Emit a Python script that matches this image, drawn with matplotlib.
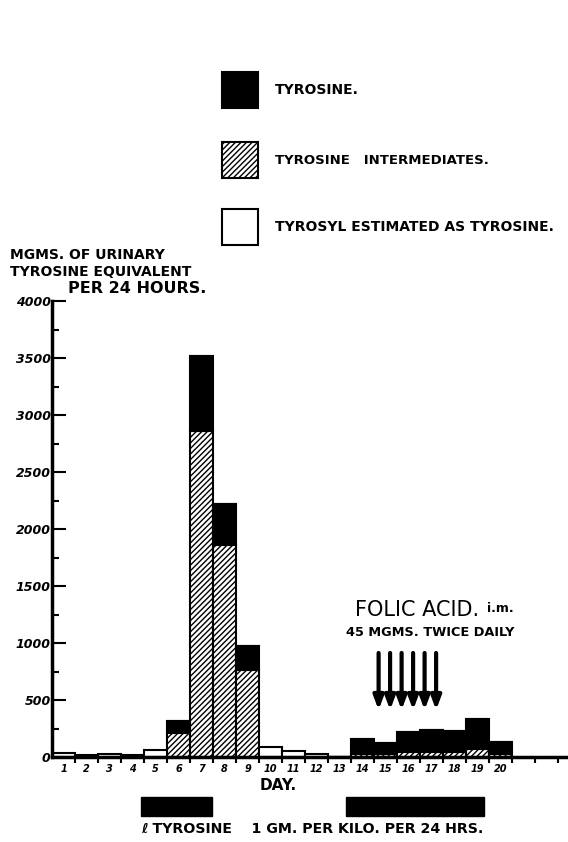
import matplotlib
matplotlib.use("Agg")
import matplotlib.pyplot as plt
import matplotlib.transforms as mtransforms
from matplotlib.patches import Rectangle
import numpy as np

plt.rcParams['font.family'] = ['DejaVu Sans']
plt.rcParams['hatch.linewidth'] = 1.0

days = list(range(1, 21))
day_labels = [str(d) for d in days]
intermediates = [0, 0, 0, 0, 0, 210, 2860, 1860, 760, 0, 0, 0, 0, 30, 30, 40, 40, 40, 70, 30]
tyrosine = [0, 0, 0, 0, 0, 110, 660, 360, 210, 0, 0, 0, 0, 128, 90, 182, 197, 185, 263, 104]
tyrosyl = [35, 20, 30, 20, 60, 0, 0, 0, 0, 85, 55, 30, 0, 0, 0, 0, 0, 0, 0, 0]
y_ticks = [0, 500, 1000, 1500, 2000, 2500, 3000, 3500, 4000]
arrow_days = [14.7, 15.2, 15.7, 16.2, 16.7, 17.2]

fig = plt.figure(figsize=(5.68, 8.42), dpi=100)
ax = fig.add_axes([52/568, 85/842, 516/568, 456/842])

x = np.array(days)
inter = np.array(intermediates)
tyr = np.array(tyrosine)
tsy = np.array(tyrosyl)

ax.bar(x, inter, width=1.0, color='white', edgecolor='black', hatch='//////', linewidth=1.5)
ax.bar(x, tyr, width=1.0, bottom=inter, color='black', edgecolor='black', linewidth=1.5)
ax.bar(x, tsy, width=1.0, bottom=inter + tyr, color='white', edgecolor='black', linewidth=1.5)

ax.set_xlim(0.5, 0.5 + 516/23)
ax.set_ylim(0, 4000)
for s in ['top', 'right']:
    ax.spines[s].set_visible(False)
ax.spines['left'].set_linewidth(2.5)
ax.spines['bottom'].set_linewidth(2.5)

ax.set_yticks(y_ticks)
ax.set_yticklabels([str(v) for v in y_ticks], fontsize=9, fontweight='bold', fontstyle='italic')
ax.set_yticks(np.arange(250, 4000, 500), minor=True)
ax.tick_params(axis='y', which='major', direction='in', length=10, width=1.5, pad=1)
ax.tick_params(axis='y', which='minor', direction='in', length=5, width=1.5)

ax.set_xticks(x)
ax.set_xticklabels(day_labels, fontsize=7, fontweight='bold', fontstyle='italic')
ax.set_xticks(np.arange(1.5, 22.6, 1.0), minor=True)
ax.tick_params(axis='x', which='major', length=0, pad=5)
ax.tick_params(axis='x', which='minor', direction='out', length=4, width=1.5)

# Axis titles
fig.text(10/568, 1 - 255/842, "MGMS. OF URINARY", fontsize=10, fontweight='bold', va='center', ha='left')
fig.text(10/568, 1 - 272/842, "TYROSINE EQUIVALENT", fontsize=10, fontweight='bold', va='center', ha='left')
fig.text(68/568, 1 - 289/842, "PER 24 HOURS.", fontsize=11.5, fontweight='bold', va='center', ha='left')
fig.text(278/568, 1 - 785/842, "DAY.", fontsize=11, fontweight='bold', va='center', ha='center')

# Legend
leg = [("black", None, "TYROSINE.", 90, 10),
       ("white", "//////", "TYROSINE   INTERMEDIATES.", 160, 9.5),
       ("white", None, "TYROSYL ESTIMATED AS TYROSINE.", 227, 10)]
for fc, hatch, label, yc, fs in leg:
    r = Rectangle((222/568, 1 - (yc + 18)/842), 36/568, 36/842, transform=fig.transFigure,
                  facecolor=fc, edgecolor='black', hatch=hatch, linewidth=1.5)
    fig.patches.append(r)
    fig.text(275/568, 1 - yc/842, label, fontsize=fs, fontweight='bold', va='center', ha='left')

# Folic acid annotation
fig.text(355/568, 1 - 610/842, "FOLIC ACID.", fontsize=15, va='center', ha='left')
fig.text(487/568, 1 - 608/842, "i.m.", fontsize=9, fontweight='bold', va='center', ha='left')
fig.text(346/568, 1 - 632/842, "45 MGMS. TWICE DAILY", fontsize=9.3, fontweight='bold', va='center', ha='left')

trans = mtransforms.blended_transform_factory(ax.transData, fig.transFigure)
for ad in arrow_days:
    ax.annotate("", xy=(ad, 1 - 710/842), xytext=(ad, 1 - 653/842),
                xycoords=trans, textcoords=trans,
                arrowprops=dict(arrowstyle='-|>,head_length=0.8,head_width=0.3', lw=3, color='black',
                                shrinkA=0, shrinkB=0), annotation_clip=False)

# Treatment bars
for x0, x1 in [(4.37, 7.46), (13.3, 19.3)]:
    r = Rectangle((x0, 1 - 816/842), x1 - x0, 19/842, transform=trans,
                  facecolor='black', edgecolor='black', clip_on=False)
    ax.add_patch(r)
fig.text(141/568, 1 - 829/842, "ℓ TYROSINE    1 GM. PER KILO. PER 24 HRS.", fontsize=10.2,
         fontweight='bold', va='center', ha='left')

fig.savefig("out.png", dpi=100)
